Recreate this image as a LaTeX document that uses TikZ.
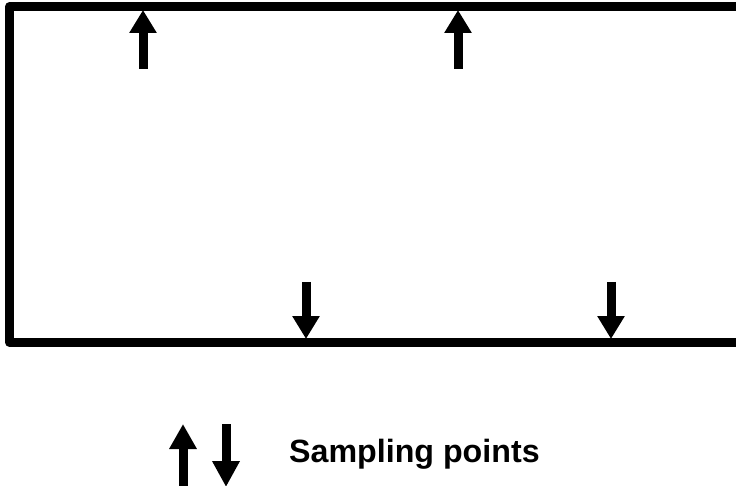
\documentclass[tikz,border=0pt]{standalone}
\usepackage{fontspec}
\setmainfont{Liberation Sans}
\usetikzlibrary{arrows.meta}
\begin{document}
\begin{tikzpicture}[x=1pt,y=-1pt,
  frame/.style={line width=8.5pt,line join=round,draw=black},
  samp/.style={line width=9pt,-{Triangle[width=26pt,length=23pt]},draw=black},
  legendtext/.style={font=\bfseries\fontsize{32.2}{36}\selectfont,anchor=base west,inner sep=0pt}]
\useasboundingbox (0,0) rectangle (736,486);
\clip (0,0) rectangle (736,486);
% frame
\draw[frame] (760,6.5) -- (9.5,6.5) -- (9.5,342.5) -- (760,342.5);
% top sampling points
\coordinate (t1s) at (143,69); \coordinate (t1e) at (143,10);
\coordinate (t2s) at (458,69); \coordinate (t2e) at (458,10);
\draw[samp] (t1s) -- (t1e);
\draw[samp] (t2s) -- (t2e);
% bottom sampling points
\coordinate (b1s) at (306,282); \coordinate (b1e) at (306,339);
\coordinate (b2s) at (611,282); \coordinate (b2e) at (611,339);
\draw[samp] (b1s) -- (b1e);
\draw[samp] (b2s) -- (b2e);
% legend
\coordinate (l1s) at (183,490); \coordinate (l1e) at (183,424);
\coordinate (l2s) at (226,424); \coordinate (l2e) at (226,487);
\draw[samp,-{Triangle[width=26pt,length=25pt]}] (l1s) -- (l1e);
\draw[samp,-{Triangle[width=26pt,length=26pt]}] (l2s) -- (l2e);
\node[legendtext] (lbl) at (289,462) {Sampling points};
\end{tikzpicture}
\end{document}
